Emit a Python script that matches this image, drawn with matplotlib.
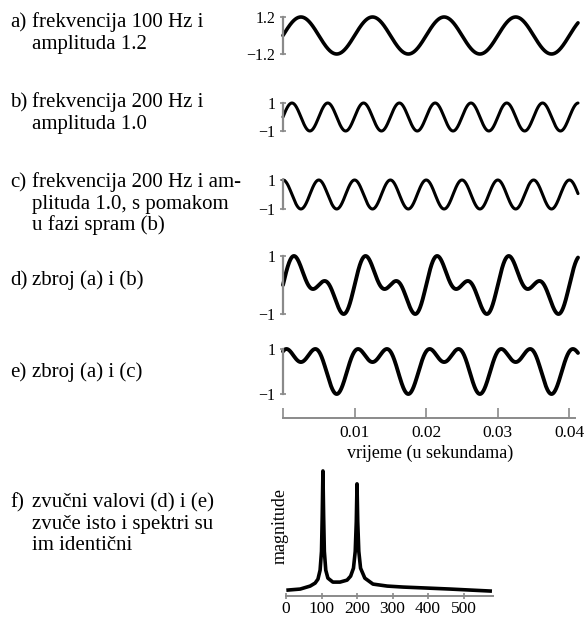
import numpy as np
import matplotlib
matplotlib.use("Agg")
import matplotlib.pyplot as plt

plt.rcParams['font.family'] = ['Liberation Serif', 'DejaVu Serif']

# ---- data ----
freq_a, amp_a, phase_a = 100.0, 1.2, 0.0
freq_b, amp_b, phase_b = 200.0, 1.0, 0.0
freq_c, amp_c, phase_c = 200.0, 1.0, np.pi / 2   # phase shift relative to (b)
t_end = 0.0412
time_ticks = [0.0, 0.01, 0.02, 0.03, 0.04]
time_tick_labels = ["", "0.01", "0.02", "0.03", "0.04"]

spec_freq = [6, 40, 68, 82, 90, 96, 100, 102, 104, 106, 108, 112, 118, 132, 152,
             172, 182, 190, 195, 198, 200, 202, 205, 210, 222, 245, 285, 330, 397,
             462, 518, 575]
spec_mag = [6, 7, 10, 13, 17, 26, 45, 80, 126, 80, 45, 26, 18, 14, 14,
            16, 20, 28, 45, 75, 113, 75, 45, 28, 18, 12, 10, 9, 8,
            7, 6, 5]
spec_ticks = [0, 100, 200, 300, 400, 500]

labels = [
    (["a)"], ["frekvencija 100 Hz i", "amplituda 1.2"], 27),
    (["b)"], ["frekvencija 200 Hz i", "amplituda 1.0"], 107),
    (["c)"], ["frekvencija 200 Hz i am-", "plituda 1.0, s pomakom", "u fazi spram (b)"], 187),
    (["d)"], ["zbroj (a) i (b)"], 285),
    (["e)"], ["zbroj (a) i (c)"], 377),
    (["f)"], ["zvučni valovi (d) i (e)", "zvuče isto i spektri su", "im identični"], 507),
]

# ---- figure ----
W, H = 587, 620
fig = plt.figure(figsize=(W / 100, H / 100), dpi=100)


def ax_px(left, top, right, bottom):
    return fig.add_axes([left / W, 1 - bottom / H, (right - left) / W, (bottom - top) / H])


t = np.linspace(0, t_end, 1500)
a = amp_a * np.sin(2 * np.pi * freq_a * t + phase_a)
b = amp_b * np.sin(2 * np.pi * freq_b * t + phase_b)
c = amp_c * np.sin(2 * np.pi * freq_c * t + phase_c)
d = a + b
e = a + c


def span_unit(y):
    lo, hi = y.min(), y.max()
    return (2 * y - (hi + lo)) / (hi - lo)


gray = '#8a8a8a'
X0, X1 = 283, 578
panels = [
    (a, 17, 54, 1.2, ["\u22121.2", "1.2"], 2.6),
    (b, 103, 131, 1.0, ["\u22121", "1"], 2.2),
    (c, 180, 209, 1.0, ["\u22121", "1"], 2.2),
    (span_unit(d), 256, 314, 1.0, ["\u22121", "1"], 2.8),
    (span_unit(e), 349, 394, 1.0, ["\u22121", "1"], 2.8),
]
for y, top, bot, lim, tl, lw in panels:
    ax = ax_px(X0, top, X1, bot)
    ax.plot(t, y, color='black', lw=lw, clip_on=False, solid_capstyle='round')
    ax.set_xlim(0, t_end)
    ax.set_ylim(-lim, lim)
    for s in ['top', 'right', 'bottom']:
        ax.spines[s].set_visible(False)
    ax.spines['left'].set_color(gray)
    ax.spines['left'].set_linewidth(1.6)
    ax.set_xticks([])
    ax.set_yticks([-lim, lim])
    ax.set_yticklabels(tl)
    ax.tick_params(axis='y', direction='inout', length=5, width=1.2, color=gray,
                   labelsize=11.5, pad=3)
    ax.patch.set_visible(False)

# time axis
axt = ax_px(X0, 417, X1, 418)
axt.set_xlim(0, t_end)
axt.set_yticks([])
for s in ['top', 'right', 'left']:
    axt.spines[s].set_visible(False)
axt.spines['bottom'].set_color(gray)
axt.spines['bottom'].set_linewidth(1.4)
axt.spines['bottom'].set_bounds(0, 0.0408)
axt.set_xticks(time_ticks)
axt.set_xticklabels(time_tick_labels)
axt.tick_params(axis='x', direction='in', length=7, width=1.2, color=gray,
                labelsize=12.5, pad=5)
axt.patch.set_visible(False)
axt.set_xlabel("vrijeme (u sekundama)", fontsize=13, labelpad=3)

# spectrum
axs = ax_px(286, 465, 493, 596)
axs.plot(spec_freq, spec_mag, color='black', lw=2.6, clip_on=False,
         solid_joinstyle='round')
axs.set_xlim(0, 583)
axs.set_ylim(0, 132)
for s in ['top', 'right', 'left']:
    axs.spines[s].set_visible(False)
axs.spines['bottom'].set_color(gray)
axs.spines['bottom'].set_linewidth(1.4)
axs.set_yticks([])
axs.set_xticks(spec_ticks)
axs.tick_params(axis='x', direction='inout', length=4, width=1.2, color=gray,
                labelsize=12.5, pad=1.5)
axs.patch.set_visible(False)
fig.text(280 / W, 1 - 526 / H, "magnitude", fontsize=13, rotation=90,
         ha='center', va='center')

# left labels
fs = 15
for tag, lines, base in labels:
    fig.text(10 / W, 1 - base / H, tag[0], fontsize=fs, va='baseline', ha='left')
    for i, ln in enumerate(lines):
        fig.text(32 / W, 1 - (base + i * 21.5) / H, ln, fontsize=fs,
                 va='baseline', ha='left')

fig.savefig("out.png", dpi=100)
